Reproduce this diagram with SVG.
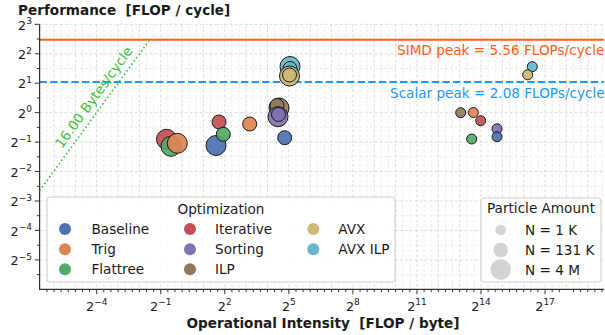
<svg xmlns="http://www.w3.org/2000/svg" width="605" height="335" viewBox="0 0 605 335">
<style>
text{font-family:"DejaVu Sans","Liberation Sans",sans-serif;font-size:13.6px;fill:#1a1a1a;white-space:pre}
.b{font-weight:bold}
.tl{font-size:12.8px}
.sup{font-size:9px}
.gmin{stroke:#e6e6e6;stroke-width:0.8;stroke-dasharray:3 2;fill:none}
.gmaj{stroke:#d2d2d2;stroke-width:0.8;stroke-dasharray:3 2;fill:none}
.spine{stroke:#333;stroke-width:1.25;fill:none}
.tick{stroke:#333;stroke-width:1;fill:none}
.pt{stroke:#1a1a1a;stroke-width:1;fill-opacity:0.92}
.lg{fill:#fff;fill-opacity:0.85;stroke:#cccccc;stroke-width:1}
.c0{fill:#4c72b0}.c1{fill:#dd8452}.c2{fill:#55a868}.c3{fill:#c44e52}.c4{fill:#8172b3}.c5{fill:#937860}.c6{fill:#ccb974}.c7{fill:#64b5cd}
</style>
<rect width="605" height="335" fill="#fff"/>
<g id="grid">
<path class="gmin" d="M46.88 24.3V289.35M61.12 24.3V289.35M68.23 24.3V289.35M82.47 24.3V289.35M89.58 24.3V289.35M103.82 24.3V289.35M110.93 24.3V289.35M125.17 24.3V289.35M132.28 24.3V289.35M146.52 24.3V289.35M153.63 24.3V289.35M167.87 24.3V289.35M174.98 24.3V289.35M189.22 24.3V289.35M196.33 24.3V289.35M210.57 24.3V289.35M217.68 24.3V289.35M231.92 24.3V289.35M239.03 24.3V289.35M253.27 24.3V289.35M260.38 24.3V289.35M274.62 24.3V289.35M281.73 24.3V289.35M295.97 24.3V289.35M303.08 24.3V289.35M317.32 24.3V289.35M324.43 24.3V289.35M338.67 24.3V289.35M345.78 24.3V289.35M360.02 24.3V289.35M367.13 24.3V289.35M381.37 24.3V289.35M388.48 24.3V289.35M402.72 24.3V289.35M409.83 24.3V289.35M424.07 24.3V289.35M431.18 24.3V289.35M445.42 24.3V289.35M452.53 24.3V289.35M466.77 24.3V289.35M473.88 24.3V289.35M488.12 24.3V289.35M495.23 24.3V289.35M509.47 24.3V289.35M516.58 24.3V289.35M530.82 24.3V289.35M537.93 24.3V289.35M552.17 24.3V289.35M559.28 24.3V289.35M573.52 24.3V289.35M580.63 24.3V289.35M594.87 24.3V289.35M601.98 24.3V289.35"/>
<path class="gmin" d="M39.6 39.03H604M39.6 68.48H604M39.6 97.93H604M39.6 127.38H604M39.6 156.83H604M39.6 186.28H604M39.6 215.73H604M39.6 245.18H604M39.6 274.63H604"/>
<path class="gmaj" d="M54 24.3V289.35M75.35 24.3V289.35M96.7 24.3V289.35M118.05 24.3V289.35M139.4 24.3V289.35M160.75 24.3V289.35M182.1 24.3V289.35M203.45 24.3V289.35M224.8 24.3V289.35M246.15 24.3V289.35M267.5 24.3V289.35M288.85 24.3V289.35M310.2 24.3V289.35M331.55 24.3V289.35M352.9 24.3V289.35M374.25 24.3V289.35M395.6 24.3V289.35M416.95 24.3V289.35M438.3 24.3V289.35M459.65 24.3V289.35M481 24.3V289.35M502.35 24.3V289.35M523.7 24.3V289.35M545.05 24.3V289.35M566.4 24.3V289.35M587.75 24.3V289.35"/>
<path class="gmaj" d="M39.6 24.3H604M39.6 53.75H604M39.6 83.2H604M39.6 112.65H604M39.6 142.1H604M39.6 171.55H604M39.6 201H604M39.6 230.45H604M39.6 259.9H604"/>
</g>
<g id="connectors">
<line x1="39.6" y1="39.8" x2="604" y2="39.8" stroke="#fe5e14" stroke-width="2"/>
<line x1="39.6" y1="82" x2="604" y2="82" stroke="#1e98f0" stroke-width="2" stroke-dasharray="7.4 3.2"/>
<line x1="39.6" y1="190.7" x2="149.7" y2="39.8" stroke="#3cc23c" stroke-width="1.6" stroke-dasharray="1.6 2.5"/>
</g>
<g id="line-labels">
<text x="397" y="55.3" style="fill:#fe5e14">SIMD peak = 5.56 FLOPs/cycle</text>
<text x="390" y="98" style="fill:#1e98f0">Scalar peak = 2.08 FLOPs/cycle</text>
<text x="62" y="149" transform="rotate(-54 62 149)" style="fill:#3cc23c">16.00 Bytes/cycle</text>
</g>
<g id="points-large-medium">
<circle class="pt c0" cx="216" cy="145.5" r="10"/>
<circle class="pt c3" cx="166.5" cy="139.3" r="10"/>
<circle class="pt c2" cx="171" cy="146.3" r="10"/>
<circle class="pt c1" cx="177.3" cy="143.3" r="10"/>
<circle class="pt c3" cx="219" cy="122" r="7"/>
<circle class="pt c2" cx="223.3" cy="134.3" r="7"/>
<circle class="pt c1" cx="249.7" cy="124" r="7"/>
<circle class="pt c0" cx="284.7" cy="137.7" r="7"/>
<circle class="pt c5" cx="279" cy="108" r="10"/>
<circle class="pt c5" cx="277" cy="105.5" r="7"/>
<circle class="pt c4" cx="278" cy="116.7" r="10"/>
<circle class="pt c4" cx="278.5" cy="114.5" r="7"/>
<circle class="pt c7" cx="290" cy="66.5" r="10"/>
<circle class="pt c7" cx="290" cy="68.5" r="7"/>
<circle class="pt c6" cx="289.5" cy="76" r="10"/>
<circle class="pt c6" cx="289.5" cy="75" r="7"/>
</g>
<g id="points-small">
<circle class="pt c5" cx="460.7" cy="112.7" r="5"/>
<circle class="pt c1" cx="473.3" cy="112.5" r="5"/>
<circle class="pt c3" cx="480.7" cy="120.7" r="5"/>
<circle class="pt c2" cx="471.7" cy="139" r="5"/>
<circle class="pt c4" cx="497" cy="128.8" r="5"/>
<circle class="pt c0" cx="497" cy="136.7" r="5"/>
<circle class="pt c7" cx="532.3" cy="66.7" r="5"/>
<circle class="pt c6" cx="527.7" cy="74.8" r="5"/>
</g>
<g id="axes">
<path class="spine" d="M39.6 24.3V289.35H604"/>
<path class="tick" d="M39.6 24.3h-4.9M39.6 53.75h-4.9M39.6 83.2h-4.9M39.6 112.65h-4.9M39.6 142.1h-4.9M39.6 171.55h-4.9M39.6 201h-4.9M39.6 230.45h-4.9M39.6 259.9h-4.9"/>
<path class="tick" d="M39.6 39.03h-2.8M39.6 68.48h-2.8M39.6 97.93h-2.8M39.6 127.38h-2.8M39.6 156.83h-2.8M39.6 186.28h-2.8M39.6 215.73h-2.8M39.6 245.18h-2.8M39.6 274.63h-2.8"/>
<path class="tick" d="M96.7 289.35v4.9M160.75 289.35v4.9M224.8 289.35v4.9M288.85 289.35v4.9M352.9 289.35v4.9M416.95 289.35v4.9M481 289.35v4.9M545.05 289.35v4.9"/>
<path class="tick" d="M46.88 289.35v2.8M54 289.35v2.8M61.12 289.35v2.8M68.23 289.35v2.8M75.35 289.35v2.8M82.47 289.35v2.8M89.58 289.35v2.8M103.82 289.35v2.8M110.93 289.35v2.8M118.05 289.35v2.8M125.17 289.35v2.8M132.28 289.35v2.8M139.4 289.35v2.8M146.52 289.35v2.8M153.63 289.35v2.8M167.87 289.35v2.8M174.98 289.35v2.8M182.1 289.35v2.8M189.22 289.35v2.8M196.33 289.35v2.8M203.45 289.35v2.8M210.57 289.35v2.8M217.68 289.35v2.8M231.92 289.35v2.8M239.03 289.35v2.8M246.15 289.35v2.8M253.27 289.35v2.8M260.38 289.35v2.8M267.5 289.35v2.8M274.62 289.35v2.8M281.73 289.35v2.8M295.97 289.35v2.8M303.08 289.35v2.8M310.2 289.35v2.8M317.32 289.35v2.8M324.43 289.35v2.8M331.55 289.35v2.8M338.67 289.35v2.8M345.78 289.35v2.8M360.02 289.35v2.8M367.13 289.35v2.8M374.25 289.35v2.8M381.37 289.35v2.8M388.48 289.35v2.8M395.6 289.35v2.8M402.72 289.35v2.8M409.83 289.35v2.8M424.07 289.35v2.8M431.18 289.35v2.8M438.3 289.35v2.8M445.42 289.35v2.8M452.53 289.35v2.8M459.65 289.35v2.8M466.77 289.35v2.8M473.88 289.35v2.8M488.12 289.35v2.8M495.23 289.35v2.8M502.35 289.35v2.8M509.47 289.35v2.8M516.58 289.35v2.8M523.7 289.35v2.8M530.82 289.35v2.8M537.93 289.35v2.8M552.17 289.35v2.8M559.28 289.35v2.8M573.52 289.35v2.8M580.63 289.35v2.8M587.75 289.35v2.8M594.87 289.35v2.8M601.98 289.35v2.8"/>
<g text-anchor="end">
<text class="tl" x="32" y="29.8">2<tspan class="sup" dy="-5.5">3</tspan></text>
<text class="tl" x="32" y="59">2<tspan class="sup" dy="-5.5">2</tspan></text>
<text class="tl" x="32" y="88.4">2<tspan class="sup" dy="-5.5">1</tspan></text>
<text class="tl" x="32" y="117.8">2<tspan class="sup" dy="-5.5">0</tspan></text>
<text class="tl" x="32" y="147.2">2<tspan class="sup" dy="-5.5">−1</tspan></text>
<text class="tl" x="32" y="176.6">2<tspan class="sup" dy="-5.5">−2</tspan></text>
<text class="tl" x="32" y="206">2<tspan class="sup" dy="-5.5">−3</tspan></text>
<text class="tl" x="32" y="235.5">2<tspan class="sup" dy="-5.5">−4</tspan></text>
<text class="tl" x="32" y="265">2<tspan class="sup" dy="-5.5">−5</tspan></text>
</g>
<g text-anchor="middle">
<text class="tl" x="96.7" y="310.5">2<tspan class="sup" dy="-5.5">−4</tspan></text>
<text class="tl" x="160.75" y="310.5">2<tspan class="sup" dy="-5.5">−1</tspan></text>
<text class="tl" x="224.8" y="310.5">2<tspan class="sup" dy="-5.5">2</tspan></text>
<text class="tl" x="288.85" y="310.5">2<tspan class="sup" dy="-5.5">5</tspan></text>
<text class="tl" x="352.9" y="310.5">2<tspan class="sup" dy="-5.5">8</tspan></text>
<text class="tl" x="416.95" y="310.5">2<tspan class="sup" dy="-5.5">11</tspan></text>
<text class="tl" x="481" y="310.5">2<tspan class="sup" dy="-5.5">14</tspan></text>
<text class="tl" x="545.05" y="310.5">2<tspan class="sup" dy="-5.5">17</tspan></text>
</g>
<text class="b" x="18" y="14.8">Performance  [FLOP / cycle]</text>
<text class="b" x="323" y="328" text-anchor="middle">Operational Intensity  [FLOP / byte]</text>
</g>
<g id="legend-optimization">
<rect class="lg" x="47" y="197" width="348" height="85" rx="3"/>
<text x="221" y="213.5" text-anchor="middle">Optimization</text>
<circle class="c0" cx="65" cy="229" r="6"/><text x="91.5" y="234">Baseline</text>
<circle class="c1" cx="65" cy="249.2" r="6"/><text x="91.5" y="254.2">Trig</text>
<circle class="c2" cx="65" cy="269.3" r="6"/><text x="91.5" y="274.3">Flattree</text>
<circle class="c3" cx="190" cy="229" r="6"/><text x="215" y="234">Iterative</text>
<circle class="c4" cx="190" cy="249.2" r="6"/><text x="215" y="254.2">Sorting</text>
<circle class="c5" cx="190" cy="269.3" r="6"/><text x="215" y="274.3">ILP</text>
<circle class="c6" cx="313.3" cy="229" r="6"/><text x="338.3" y="234">AVX</text>
<circle class="c7" cx="313.3" cy="249.2" r="6"/><text x="338.3" y="254.2">AVX ILP</text>
</g>
<g id="legend-particles">
<rect class="lg" x="481" y="198" width="120" height="84" rx="3"/>
<text x="541" y="213.3" text-anchor="middle">Particle Amount</text>
<circle cx="500.7" cy="230" r="5.3" fill="#d3d3d3"/><text x="525" y="235">N = 1 K</text>
<circle cx="500.7" cy="250" r="7.3" fill="#d3d3d3"/><text x="525" y="255">N = 131 K</text>
<circle cx="500.7" cy="269.5" r="10.3" fill="#d3d3d3"/><text x="525" y="274.5">N = 4 M</text>
</g>
</svg>
